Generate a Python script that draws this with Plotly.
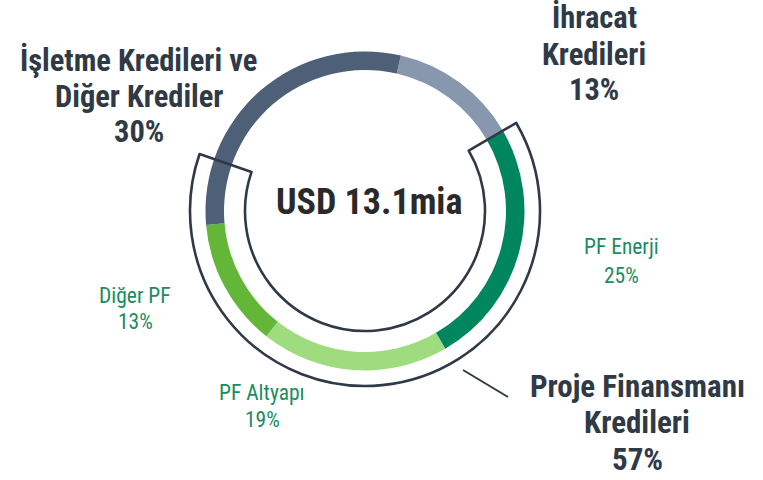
import plotly.graph_objects as go

W, H = 763, 480

# ---- data ----
segments = ["İhracat Kredileri", "PF Enerji", "PF Altyapı", "Diğer PF", "İşletme Kredileri ve Diğer Krediler"]
shares = [13, 25, 19, 13, 30]
pf_segments = ["PF Enerji", "PF Altyapı", "Diğer PF"]
center_label = "USD 13.1mia"
label_ihracat = ["İhracat", "Kredileri", "13%"]
label_isletme = ["İşletme Kredileri ve", "Diğer Krediler", "30%"]
label_proje = ["Proje Finansmanı", "Kredileri", "57%"]
label_enerji = ["PF Enerji", "25%"]
label_diger_pf = ["Diğer PF", "13%"]
label_altyapi = ["PF Altyapı", "19%"]

# ---- style ----
colors = ["#8797ad", "#00865f", "#9fdc7f", "#63b637", "#4e5f78"]
DARK = "#2f3a46"
GREEN = "#1b8c5e"
FONT = "Roboto Condensed, Liberation Sans Narrow, sans-serif"

CX, CY = 365, 211          # ring center in px
R_OUT, R_IN = 159.5, 141   # ring radii
B_OUT, B_IN = 175, 120     # bracket radii
ROT = 13                   # start angle (deg clockwise from 12 o'clock)


def dom(r):
    x = [(CX - r) / W, (CX + r) / W]
    y = [(H - CY - r) / H, (H - CY + r) / H]
    return dict(x=x, y=y)


fig = go.Figure()
fig.add_trace(go.Pie(
    labels=segments, values=shares, sort=False, direction="clockwise",
    rotation=ROT, hole=R_IN / R_OUT, domain=dom(R_OUT),
    marker=dict(colors=colors, line=dict(width=0)),
    textinfo="none", hoverinfo="label+percent", showlegend=False,
))

# bracket around the project-finance segments
pf_total = sum(s for n, s in zip(segments, shares) if n in pf_segments)
b_start = ROT + shares[0] * 3.6
b_span = pf_total * 3.6 + 24
fig.add_trace(go.Pie(
    labels=["PF", "rest"], values=[b_span, 360 - b_span], sort=False,
    direction="clockwise", rotation=b_start, hole=B_IN / B_OUT, domain=dom(B_OUT),
    marker=dict(colors=["rgba(0,0,0,0)", "rgba(0,0,0,0)"],
                line=dict(color=DARK, width=[2.6, 0])),
    textinfo="none", hoverinfo="skip", showlegend=False,
))


def px(x):
    return x / W


def py(y):
    return 1 - y / H


def lines(texts, x, baselines, size, color, bold=False):
    for t, b in zip(texts, baselines):
        tt = f"<b>{t}</b>" if bold else t
        fig.add_annotation(text=tt, x=px(x), y=py(b - 0.35 * size), xref="paper", yref="paper",
                           xanchor="center", yanchor="middle", showarrow=False,
                           font=dict(family=FONT, size=size, color=color))


lines([center_label], 369, [215], 36, "#2a2a2a", bold=True)
lines(label_ihracat, 594, [28, 65, 100], 30.5, DARK, bold=True)
lines(label_isletme, 138.5, [70.7, 107, 141.7], 30.5, DARK, bold=True)
lines(label_proje, 637, [397.7, 433, 470], 31, DARK, bold=True)
lines(label_enerji, 621.5, [254, 283], 21.5, GREEN)
lines(label_diger_pf, 135, [303, 329], 21.5, GREEN)
lines(label_altyapi, 262, [400, 427], 21.5, GREEN)

fig.add_shape(type="line", xref="paper", yref="paper",
              x0=px(463), y0=py(370), x1=px(508), y1=py(397),
              line=dict(color=DARK, width=2))

fig.update_layout(width=W, height=H, margin=dict(l=0, r=0, t=0, b=0),
                  paper_bgcolor="white", plot_bgcolor="white", showlegend=False)

fig.write_html("out.html", config={"displayModeBar": False},
               post_script="document.body.style.margin='0';")
